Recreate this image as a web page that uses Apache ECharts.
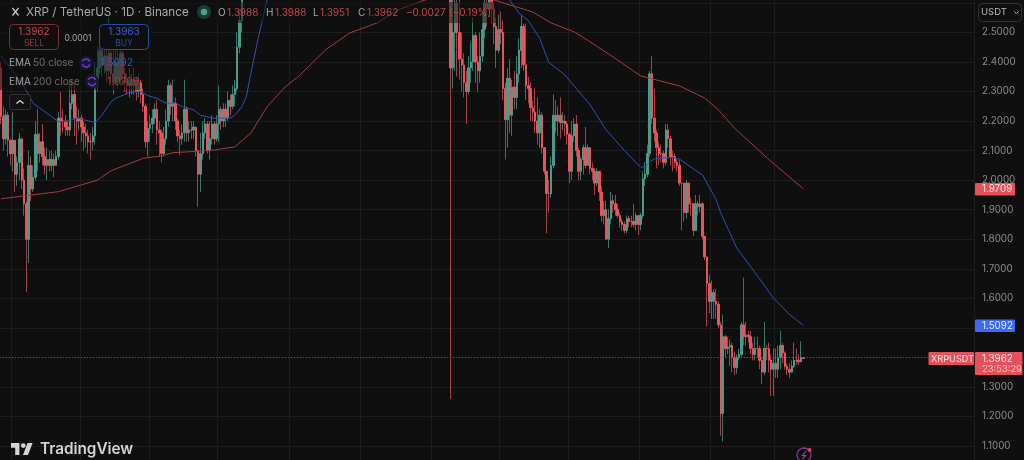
<!DOCTYPE html>
<html>
<head>
<meta charset="utf-8">
<title>XRP / TetherUS</title>
<script src="https://cdn.jsdelivr.net/npm/echarts@6/dist/echarts.min.js"></script>
<style>html,body{margin:0;padding:0;background:#0f0f0f;overflow:hidden}#c{width:1024px;height:460px;filter:blur(0.35px)}</style>
</head>
<body>
<div id="c"></div>
<script>
// ---- first visible leg (oldest candles) ----
const closesA = [
2.215,2.14,2.22,2.135,2.09,2.135,2.02,2.06,2.14,2.0,
1.92,1.80,2.05,1.97,2.01,2.155,2.09,2.13,2.08,2.05,
2.07,2.05,2.07,2.05,2.08,2.21,2.2,2.2,2.18,2.17,
2.26,2.29,2.21,2.2,2.21,2.18,2.16,2.15,2.13,2.13,
2.15,2.34,2.38,2.44,2.39,2.42,2.37,2.43,2.36,2.33,
2.40,2.34,2.43,2.36,2.33,2.32,2.34,2.32,2.34,2.3,
2.33,2.29,2.25,2.13,2.175,2.19,2.21,2.24,2.17,2.16,
2.09,2.14,2.20,2.32,2.25,2.26,2.2,2.15,2.14,2.16,
2.24,2.16,2.17,2.17,2.18,2.1,2.02,2.09,2.16,2.19,
2.1,2.14,2.19,2.14,2.19,2.24,2.2,2.24,2.21,2.27,
2.25,2.29,2.31,2.45,2.54,2.66];
const lowsA = [
2.19,2.10,2.12,2.08,2.05,2.03,1.96,1.98,2.0,1.97,
1.88,1.62,1.72,1.93,1.96,2.0,2.03,2.06,2.05,2.02,
2.0,2.03,2.03,2.01,2.05,2.07,2.15,2.16,2.15,2.15,
2.15,2.24,2.15,2.12,2.17,2.13,2.1,2.11,2.09,2.07,
2.1,2.12,2.3,2.36,2.35,2.36,2.33,2.35,2.33,2.29,
2.32,2.31,2.32,2.33,2.3,2.29,2.28,2.29,2.29,2.27,
2.28,2.26,2.23,2.11,2.08,2.13,2.16,2.19,2.12,2.08,
2.06,2.08,2.12,2.18,2.22,2.2,2.17,2.13,2.085,2.12,
2.13,2.13,2.13,2.14,2.14,2.08,1.91,1.96,2.07,2.14,
2.09,2.07,2.12,2.12,2.13,2.13,2.17,2.18,2.18,2.2,
2.22,2.24,2.25,2.3,2.43,2.5];
const highsA = [
2.40,2.25,2.24,2.23,2.14,2.23,2.10,2.08,2.16,2.14,
2.04,1.93,2.10,2.08,2.05,2.2,2.24,2.16,2.19,2.11,
2.11,2.10,2.1,2.09,2.10,2.23,2.30,2.24,2.22,2.2,
2.34,2.34,2.33,2.25,2.24,2.22,2.2,2.19,2.17,2.16,
2.18,2.40,2.45,2.47,2.46,2.49,2.45,2.55,2.45,2.44,
2.44,2.44,2.46,2.44,2.38,2.36,2.38,2.36,2.38,2.35,
2.36,2.34,2.31,2.26,2.2,2.22,2.24,2.26,2.27,2.2,
2.17,2.18,2.24,2.34,2.33,2.34,2.28,2.21,2.17,2.19,
2.34,2.25,2.2,2.2,2.2,2.18,2.1,2.16,2.2,2.21,
2.2,2.2,2.22,2.2,2.22,2.32,2.25,2.26,2.26,2.3,
2.29,2.32,2.34,2.5,2.58,2.75];
const firstOpen = 2.38;
// sessions that trade above the visible price range
const sessionsAboveView = 89;
// ---- second visible leg ----
const closesB = [
2.9,2.38,2.5,2.60,2.5,2.41,2.39,2.33,2.30,2.38,
2.40,2.49,2.40,2.37,2.42,2.51,2.6,2.58,2.63,2.58,
2.52,2.44,2.51,2.5,2.31,2.205,2.345,2.22,2.315,2.28,
2.36,2.44,2.52,2.39,2.32,2.31,2.245,2.23,2.2,2.16,
2.22,2.11,2.03,1.955,1.955,2.05,2.22,2.2,2.22,2.195,
2.2,2.19,2.155,2.03,2.15,2.19,2.10,2.03,2.07,2.11,
2.05,2.11,2.04,2.03,1.99,2.03,1.96,1.88,1.90,1.80,
1.87,1.93,1.92,1.90,1.88,1.86,1.85,1.83,1.87,1.86,
1.86,1.85,1.88,1.85,1.88,2.005,2.02,2.09,2.36,2.21,
2.16,2.11,2.09,2.09,2.06,2.17,2.14,2.08,2.08,2.06,
2.05,1.99,1.99,1.89,1.99,1.92,1.92,1.83,1.92,1.91,
1.92,1.81,1.74,1.65,1.59,1.62,1.59,1.58,1.51,1.21,
1.47,1.43,1.435,1.44,1.40,1.365,1.40,1.41,1.51,1.47,
1.475,1.47,1.43,1.41,1.43,1.43,1.39,1.35,1.43,1.43,
1.39,1.36,1.38,1.36,1.40,1.44,1.415,1.37,1.36,1.35,
1.37,1.39,1.39,1.385,1.3988,1.3962];
const lowsB = [
2.8,1.26,2.31,2.37,2.35,2.34,2.3,2.28,2.19,2.29,
2.33,2.37,2.33,2.3,2.33,2.40,2.48,2.52,2.55,2.53,
2.46,2.38,2.43,2.46,2.27,2.07,2.11,2.16,2.15,2.24,
2.24,2.33,2.38,2.37,2.27,2.26,2.2,2.2,2.16,2.12,
2.11,2.09,2.02,1.82,1.89,1.94,2.04,2.16,2.15,2.14,
2.17,2.15,2.12,1.99,2.0,2.13,2.08,2.0,2.0,2.02,
2.04,2.05,2.02,2.0,1.95,1.98,1.93,1.86,1.85,1.80,
1.77,1.85,1.89,1.88,1.87,1.84,1.83,1.82,1.82,1.84,
1.84,1.84,1.83,1.815,1.83,1.87,1.98,2.01,2.08,2.19,
2.13,2.04,2.05,2.06,2.04,2.05,2.11,2.05,2.03,2.04,
2.03,1.98,1.83,1.86,1.87,1.89,1.88,1.81,1.83,1.88,
1.89,1.80,1.73,1.505,1.55,1.53,1.53,1.53,1.5,1.135,
1.115,1.4,1.41,1.37,1.35,1.34,1.345,1.39,1.40,1.44,
1.44,1.45,1.41,1.39,1.39,1.40,1.36,1.31,1.34,1.39,
1.35,1.27,1.27,1.33,1.33,1.36,1.38,1.36,1.34,1.33,
1.35,1.365,1.375,1.375,1.385,1.3951];
const highsB = [
3.0,2.9,2.65,2.65,2.65,2.62,2.5,2.43,2.37,2.42,
2.47,2.55,2.5,2.42,2.5,2.57,2.7,2.68,2.68,2.65,
2.6,2.55,2.56,2.57,2.54,2.33,2.38,2.41,2.34,2.37,
2.42,2.48,2.56,2.53,2.53,2.35,2.33,2.27,2.31,2.28,
2.24,2.23,2.11,2.03,2.0,2.08,2.29,2.27,2.25,2.28,
2.23,2.22,2.2,2.16,2.2,2.21,2.22,2.11,2.08,2.12,
2.18,2.12,2.11,2.06,2.04,2.04,2.03,1.98,1.93,1.93,
1.9,1.96,1.95,1.95,1.92,1.89,1.87,1.86,1.88,1.88,
1.88,1.92,1.89,1.88,1.89,2.03,2.06,2.12,2.37,2.42,
2.31,2.17,2.13,2.12,2.1,2.19,2.19,2.15,2.1,2.09,
2.07,2.07,1.99,1.99,2.0,1.97,1.94,1.92,1.95,1.93,
1.95,1.925,1.81,1.74,1.68,1.66,1.63,1.63,1.59,1.52,
1.545,1.475,1.47,1.46,1.45,1.42,1.41,1.43,1.52,1.67,
1.52,1.49,1.49,1.45,1.47,1.47,1.44,1.40,1.52,1.44,
1.45,1.41,1.43,1.43,1.44,1.49,1.45,1.42,1.38,1.38,
1.39,1.45,1.43,1.41,1.455,1.3988];
// EMA lines: [session index, price]
const ema50Points = [[0,2.42],[9,2.33],[14,2.26],[17,2.243],[25,2.198],[28,2.198],[33,2.21],[41,2.195],[44,2.22],[48,2.266],[50,2.277],[56,2.297],[61,2.30],[64,2.286],[68,2.277],[72,2.26],[76,2.262],[79,2.249],[84,2.238],[87,2.22],[92,2.21],[100,2.21],[102,2.22],[105,2.248],[107,2.283],[109,2.363],[112,2.475],[116,2.61],[170,3.0],[221,2.62],[226,2.565],[230,2.54],[235,2.48],[239,2.398],[246,2.356],[251,2.31],[257,2.255],[264,2.17],[272,2.10],[279,2.044],[281,2.044],[283,2.063],[285,2.072],[292,2.077],[296,2.071],[303,2.033],[306,2.018],[312,1.934],[314,1.889],[321,1.77],[328,1.697],[337,1.601],[344,1.545],[350,1.5092]];
const ema200Points = [[0,1.937],[25,1.961],[42,2.0],[48,2.032],[62,2.074],[70,2.082],[75,2.093],[84,2.097],[93,2.102],[102,2.113],[109,2.16],[116,2.248],[124,2.316],[130,2.353],[142,2.444],[152,2.498],[164,2.532],[173,2.576],[185,2.61],[205,2.65],[215,2.61],[225,2.586],[232,2.569],[240,2.532],[250,2.502],[257,2.468],[267,2.417],[279,2.353],[283,2.345],[296,2.319],[307,2.278],[313,2.238],[320,2.176],[336,2.063],[350,1.9709]];
const monthStarts = [5,35,65,95,126,157,188,218,248,279,310,338];
const axisDays = 425;
const lastPrice = 1.3962;
const ohlcTexts = [['O',218,'#a8a8a8'],['1.3988',227,'#c2454c'],['H',266,'#a8a8a8'],['1.3988',275,'#c2454c'],['L',313,'#a8a8a8'],['1.3951',320,'#c2454c'],['C',358,'#a8a8a8'],['1.3962',367,'#c2454c'],['\u22120.0027',406,'#c2454c'],['(\u22120.19%)',449,'#c2454c']];

const gap = new Array(sessionsAboveView).fill(null);
const closes = closesA.concat(gap, closesB);
const lows = lowsA.concat(gap, lowsB);
const highs = highsA.concat(gap, highsB);
const cats = Array.from({length: axisDays}, (_, i) => String(i));
const wick = [], body = [];
closes.forEach((c, i) => {
  if (c === null) { wick.push('-'); body.push('-'); return; }
  const o = i === 0 ? firstOpen : closes[i - 1];
  wick.push([o, c, lows[i], highs[i]]);
  body.push([o, c, Math.min(o, c), Math.max(o, c)]);
});

const F = 'Inter, "Noto Sans", sans-serif';
function txt(x, y, text, fill, size, opt) {
  return {type:'text', silent:true, z:50, style:Object.assign({x, y, text, fill,
    font:(opt&&opt.weight?opt.weight+' ':'')+size+'px '+F, textVerticalAlign:'middle', textAlign:(opt&&opt.align)||'left'}, {})};
}
function box(x, y, w, h, fill, stroke, r) {
  return {type:'rect', silent:true, z:49, shape:{x,y,width:w,height:h,r:r||0},
    style:{fill, stroke:stroke||null, lineWidth:stroke?1:0}};
}
function veil(x, y, w, h, a) {
  return {type:'rect', silent:true, z:40, shape:{x,y,width:w,height:h}, style:{fill:'rgba(15,15,15,'+a+')'}};
}
function seg(x1,y1,x2,y2,stroke,w){
  return {type:'line', silent:true, z:50, shape:{x1,y1,x2,y2}, style:{stroke, lineWidth:w||1.3}};
}
function poly(points, fill){
  return {type:'polygon', silent:true, z:50, shape:{points}, style:{fill}};
}
const RED='#e5505a', BLUE='#3a6bf0';
const graphics = [
  // the legend sits on a translucent panel that dims the candles below it
  veil(0,2,497,21,0.5),
  veil(0,23,152,29,0.6),
  veil(0,52,140,38,0.55),
  // symbol header
  seg(12.5,8,18.5,15.5,'#c8c8c8',1.3), seg(18.5,8,12.5,15.5,'#c8c8c8',1.3),
  txt(26,12.5,'XRP / TetherUS \u00b7 1D \u00b7 Binance','#a8a8a8',11.7),
  {type:'circle',silent:true,z:49,shape:{cx:204,cy:12,r:7},style:{fill:'#1c3a33'}},
  {type:'circle',silent:true,z:50,shape:{cx:204,cy:12,r:3.2},style:{fill:'#4aa08a'}},
  // buy / sell
  box(9.5,24.5,49,25,'#0f0f0f','#7e2f36',4),
  txt(34,32,'1.3962','#d0454e',10,{align:'center'}),
  txt(34,43,'SELL','#8e353c',8.5,{align:'center'}),
  txt(78,38,'0.0001','#a8a8a8',8.5,{align:'center'}),
  box(99.5,24.5,49,25,'#0f0f0f','#2a4aa8',4),
  txt(124,32,'1.3963','#3a62d8',10,{align:'center'}),
  txt(124,43,'BUY','#2c4a9e',8.5,{align:'center'}),
  // indicator legend
  txt(9,63,'EMA','#a0a0a0',10), txt(33,63,'50 close','#6c6c6c',10),
  {type:'circle',silent:true,z:49,shape:{cx:86,cy:63,r:7},style:{fill:'#1d1535'}},
  {type:'arc',silent:true,z:50,shape:{cx:86,cy:63,r:4,startAngle:0.3,endAngle:2.8},style:{stroke:'#6a3fe0',lineWidth:1.4,fill:null}},
  {type:'arc',silent:true,z:50,shape:{cx:86,cy:63,r:4,startAngle:3.5,endAngle:5.9},style:{stroke:'#6a3fe0',lineWidth:1.4,fill:null}},
  txt(100,63,'1.5092','#3558bd',10.5),
  txt(9,81.5,'EMA','#a0a0a0',10), txt(33,81.5,'200 close','#6c6c6c',10),
  {type:'circle',silent:true,z:49,shape:{cx:92,cy:81.5,r:7},style:{fill:'#1d1535'}},
  {type:'arc',silent:true,z:50,shape:{cx:92,cy:81.5,r:4,startAngle:0.3,endAngle:2.8},style:{stroke:'#6a3fe0',lineWidth:1.4,fill:null}},
  {type:'arc',silent:true,z:50,shape:{cx:92,cy:81.5,r:4,startAngle:3.5,endAngle:5.9},style:{stroke:'#6a3fe0',lineWidth:1.4,fill:null}},
  txt(107,81.5,'1.9709','#a83c44',10.5),
  box(9.5,94.5,21,15,'#121212','#333333',2),
  seg(16.5,103.5,20,100.5,'#d8d8d8',1.3), seg(20,100.5,23.5,103.5,'#d8d8d8',1.3),
  // currency button
  box(978.5,3.5,43,18,'#0f0f0f','#333333',4),
  txt(981,12.5,'USDT','#b8b8b8',9.5),
  seg(1014.5,11.5,1016.5,13.5,'#b8b8b8',1), seg(1016.5,13.5,1018.5,11.5,'#b8b8b8',1),
  // price tags
  box(975,183,40,12.5,RED,null,1), txt(982,189.5,'1.9709','#ffe8e8',9.8),
  box(975,319.5,40,12.5,BLUE,null,1), txt(982,326,'1.5092','#e8eeff',9.8),
  box(928.5,352,45.5,13,RED,null,1), txt(931,358.8,'XRPUSDT','#ffe8e8',9.2),
  box(975,352,47.5,23,RED,null,1), txt(982,359,'1.3962','#ffe8e8',9.8), txt(982,369,'23:53:29','#f7c4c6',9.4),
  // logo
  poly([[11,443],[19.4,443],[19.4,455],[15.2,455],[15.2,447.7],[11,447.7]],'#d4d4d4'),
  poly([[23,455],[28,455],[32.6,443],[27.5,443]],'#d4d4d4'),
  {type:'circle',silent:true,z:50,shape:{cx:23.3,cy:445.6,r:2.4},style:{fill:'#d4d4d4'}},
  txt(40,449.5,'TradingView','#d4d4d4',15.3,{weight:600}),
  // lightning badge
  {type:'circle',silent:true,z:50,shape:{cx:804,cy:455,r:7},style:{fill:'#0f0f0f',stroke:'#7a3a94',lineWidth:1.3}},
  {type:'polyline',silent:true,z:51,shape:{points:[[806,451],[802.5,455.5],[805.5,455.5],[802.5,459]]},style:{fill:null,stroke:'#8a42a8',lineWidth:1.2}},
  {type:'circle',silent:true,z:52,shape:{cx:809.5,cy:450,r:2},style:{fill:'#e5404a'}}
];
ohlcTexts.forEach(t => graphics.push(txt(t[1],12.5,t[0],t[2],10)));

const chart = echarts.init(document.getElementById('c'), null, {renderer:'canvas'});
chart.setOption({
  animation:false,
  backgroundColor:'#0f0f0f',
  textStyle:{fontFamily:F},
  grid:{left:0, width:974, top:-26.64, height:502.2, containLabel:false, outerBoundsMode:'none'},
  xAxis:{type:'category', data:cats, boundaryGap:true,
    axisLine:{show:false}, axisTick:{show:false}, axisLabel:{show:false},
    splitLine:{show:true, interval:(i)=>monthStarts.includes(i), lineStyle:{color:'#1d1d1d',width:1}}},
  yAxis:{type:'value', position:'right', min:1.0, max:2.7, interval:0.1, scale:true,
    axisLine:{show:false}, axisTick:{show:false},
    axisLabel:{color:'#8c8c8c', fontSize:9.8, margin:8, align:'left', fontFamily:F,
      formatter:(v)=> (v<1.05||v>2.55) ? '' : v.toFixed(4)},
    splitLine:{show:true, lineStyle:{color:'#1d1d1d',width:1}}},
  graphic:graphics,
  series:[
    {name:'wick', type:'candlestick', data:wick, barWidth:1, z:2, silent:true,
      itemStyle:{color:'transparent', color0:'transparent', borderColor:'#33786a', borderColor0:'#a5404a', borderColorDoji:'#a5404a', borderWidth:1}},
    {name:'XRPUSDT', type:'candlestick', data:body, barWidth:2, z:3, silent:true,
      itemStyle:{color:'#4a9c8a', color0:'#e8545a', borderColor:'#4a9c8a', borderColor0:'#e8545a', borderColorDoji:'#e8545a', borderWidth:1},
      markLine:{silent:true, symbol:'none', animation:false, label:{show:false},
        lineStyle:{color:'#a83a40', type:[1,2], width:1}, data:[{yAxis:lastPrice}]}},
    {name:'EMA 50 close', type:'line', data:ema50Points, showSymbol:false, symbol:'none', z:4, silent:true, lineStyle:{color:'#2f4fb8',width:1}},
    {name:'EMA 200 close', type:'line', data:ema200Points, showSymbol:false, symbol:'none', z:4, silent:true, lineStyle:{color:'#a83a40',width:1}}
  ]
});
</script>
</body>
</html>
